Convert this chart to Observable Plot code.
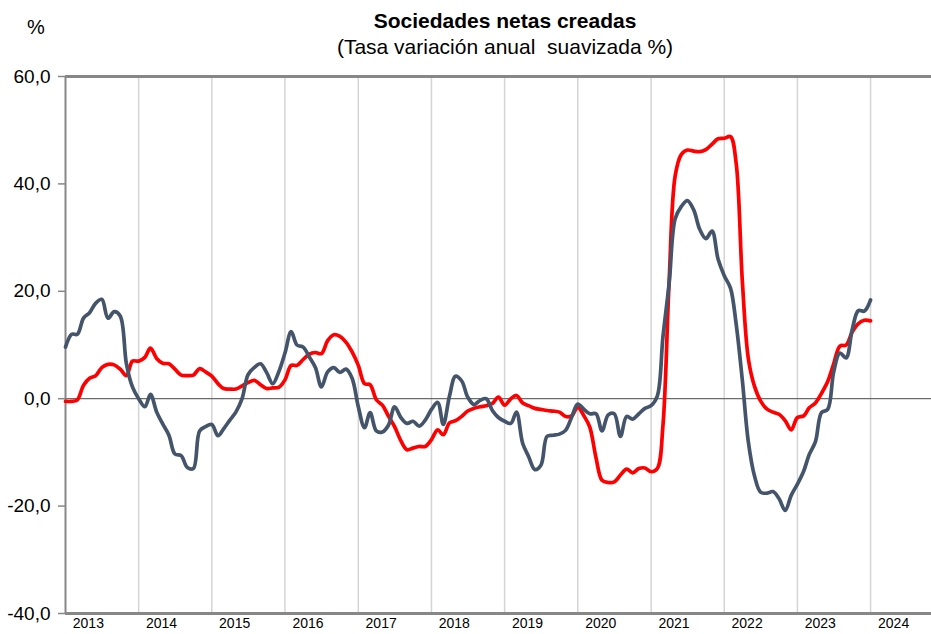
<!DOCTYPE html>
<html>
<head>
<meta charset="utf-8">
<script src="https://cdn.jsdelivr.net/npm/d3@7"></script>
<script src="https://cdn.jsdelivr.net/npm/@observablehq/plot@0.6"></script>
<style>
  body { margin: 0; background: #fff; font-family: "Liberation Sans", Arial, sans-serif; }
  #wrap { position: relative; width: 931px; height: 634px; overflow: hidden; }
  #head { position: relative; height: 60px; }
  #title { position: absolute; left: 80px; width: 850px; top: 9px; line-height: 24px; text-align: center; font-size: 21px; font-weight: bold; color: #000; }
  #subtitle { position: absolute; left: 80px; width: 850px; top: 35px; line-height: 24px; text-align: center; font-size: 21px; color: #000; }
  #unit { position: absolute; left: 27px; top: 15px; line-height: 24px; font-size: 20px; color: #000; }
  svg { overflow: visible; }
</style>
</head>
<body>
<div id="wrap">
  <div id="head">
    <div id="unit">%</div>
    <div id="title">Sociedades netas creadas</div>
    <div id="subtitle">(Tasa variación anual&nbsp; suavizada %)</div>
  </div>
  <div id="chart"></div>
</div>
<script>
// Monthly series, starting January 2013
const startMonth = "2013-01-01";
const serieRoja = [
  -0.5, -0.5, -0.2, 2.5, 3.8, 4.3, 5.8, 6.4, 6.3, 5.5, 4.3, 7.0,
  7.0, 7.7, 9.4, 7.5, 6.6, 6.5, 5.5, 4.4, 4.3, 4.4, 5.6, 5.0,
  4.2, 2.8, 1.9, 1.8, 1.8, 2.4, 3.0, 3.4, 2.6, 1.9, 2.0, 2.1,
  3.5, 6.2, 6.2, 7.3, 8.3, 8.6, 8.4, 10.8, 11.9, 11.6, 10.5, 8.7,
  6.2, 2.8, 2.6, -0.2, -1.2, -3.3, -5.2, -7.8, -9.5, -9.2, -8.9, -8.9,
  -7.6, -5.8, -6.7, -4.5, -4.1, -3.3, -2.3, -1.8, -1.5, -1.3, -0.9, 0.3,
  -1.2, 0.0, 0.6, -0.8, -1.3, -1.8, -2.0, -2.2, -2.3, -2.5, -3.3, -3.2,
  -1.6, -3.2, -5.3, -11.0, -15.2, -15.6, -15.5, -14.2, -13.1, -13.8, -13.0, -12.9,
  -13.6, -13.0, -5.0, 22.0, 41.5, 45.5, 46.3, 46.1, 46.0, 46.4, 47.4, 48.4,
  48.5, 48.8, 44.0, 22.0, 7.5, 2.3, -0.4, -1.9, -2.5, -2.9, -4.1, -5.8,
  -3.5, -3.2, -1.7, -0.8, 1.0, 3.2, 6.5, 9.8, 10.0, 12.4, 14.0, 14.6,
  14.5
];
const serieGris = [
  9.6, 12.0, 12.0, 15.0, 16.0, 17.8, 18.5, 15.0, 16.2, 15.4, 6.5, 2.2,
  0.0, -1.5, 0.8, -2.5, -4.7, -6.8, -10.3, -10.6, -12.8, -13.0, -6.0, -5.2,
  -4.8, -6.9, -5.6, -4.0, -2.5, 0.0, 4.5, 5.8, 6.5, 4.9, 2.8, 5.0,
  8.5, 12.5, 10.0, 9.6, 7.8, 5.8, 2.2, 5.0, 5.8, 4.9, 5.5, 3.8,
  -1.5, -5.4, -2.6, -6.0, -6.2, -4.9, -1.5, -3.5, -4.6, -4.2, -5.1, -4.0,
  -2.0, -0.7, -4.8, 0.5, 4.2, 3.3, 0.3, -1.1, -0.3, 0.0, -2.2, -3.5,
  -4.2, -4.6, -2.5, -8.3, -10.8, -13.2, -12.4, -7.0, -6.8, -6.6, -5.9, -3.5,
  -1.0, -2.0, -2.8, -2.8, -6.0, -3.0, -2.8, -7.0, -3.3, -3.8, -2.8, -1.8,
  -1.3, 0.5, 11.5, 21.5, 33.5, 35.8, 36.9, 35.2, 31.5, 29.8, 31.2, 26.0,
  22.9, 20.6, 14.0, 3.5, -8.0, -14.4, -17.4, -17.6, -17.3, -18.6, -20.8, -18.0,
  -15.9, -13.5, -10.4, -8.0, -2.6, -2.0, 5.0, 8.5, 7.6, 12.8, 16.4, 16.3,
  18.4
];
const yTicks = [-40, -20, 0, 20, 40, 60];
const yearLabels = [2013, 2014, 2015, 2016, 2017, 2018, 2019, 2020, 2021, 2022, 2023, 2024];
const yearGrid = [2014, 2015, 2016, 2017, 2018, 2019, 2020, 2021, 2022, 2023, 2024];

const months = d3.utcMonth.range(new Date(startMonth), d3.utcMonth.offset(new Date(startMonth), serieRoja.length));
const rojo = serieRoja.map((v, i) => ({date: months[i], value: v}));
const gris = serieGris.map((v, i) => ({date: months[i], value: v}));

const axisGrey = "#878787";

const chart = Plot.plot({
  width: 931,
  height: 574,
  marginTop: 16,
  marginBottom: 21,
  marginLeft: 65,
  marginRight: 0,
  style: {fontFamily: "'Liberation Sans', Arial, sans-serif", color: "#000", background: "#fff", overflow: "visible"},
  x: {type: "utc", domain: [new Date("2013-01-01"), new Date("2024-10-31")]},
  y: {domain: [-40, 60]},
  marks: [
    Plot.ruleX(yearGrid.map(y => new Date(Date.UTC(y, 0, 1))), {stroke: "#d4d4d4", strokeWidth: 1.5}),
    Plot.ruleY([0], {stroke: "#6b6b6b", strokeWidth: 1.2}),
    Plot.ruleY([60], {stroke: axisGrey, strokeWidth: 3}),
    Plot.ruleY([-40], {stroke: axisGrey, strokeWidth: 3}),
    Plot.ruleX([new Date("2013-01-01")], {stroke: axisGrey, strokeWidth: 2}),
    Plot.axisY({
      ticks: yTicks,
      tickFormat: d => d.toFixed(1).replace(".", ","),
      tickSize: 7,
      tickPadding: 8,
      fontSize: 19,
      stroke: axisGrey,
      strokeWidth: 1.5,
      label: null
    }),
    Plot.axisX({
      ticks: yearLabels.map(y => new Date(Date.UTC(y, 3, 25))),
      tickFormat: d => String(d.getUTCFullYear()),
      tickSize: 0,
      tickPadding: 5,
      fontSize: 14,
      label: null
    }),
    Plot.line(rojo, {x: "date", y: "value", stroke: "#ff0000", strokeWidth: 3.7, curve: "catmull-rom"}),
    Plot.line(gris, {x: "date", y: "value", stroke: "#44546a", strokeWidth: 3.7, curve: "catmull-rom"})
  ]
});
document.getElementById("chart").appendChild(chart);
</script>
</body>
</html>
